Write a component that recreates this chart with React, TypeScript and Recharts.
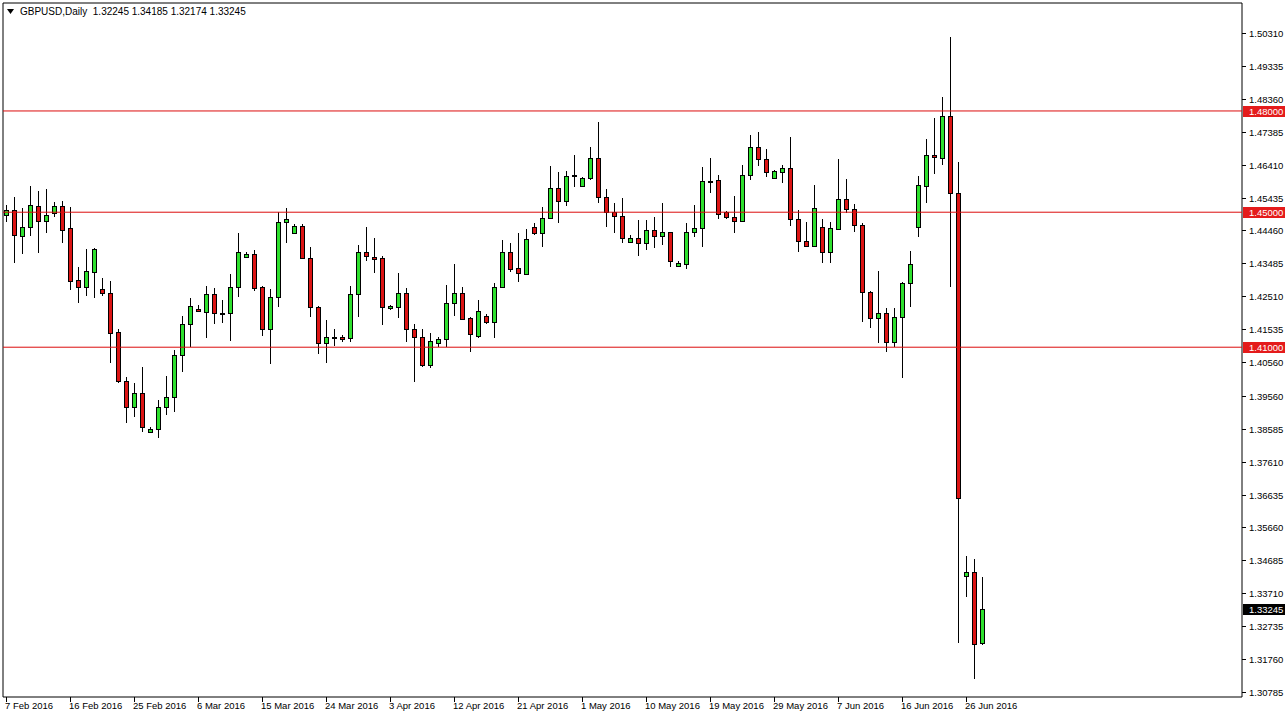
import React from "react";
import { ComposedChart, Bar, XAxis, YAxis, ReferenceLine, ReferenceArea } from "recharts";

// GBPUSD daily, 7 Feb 2016 .. 28 Jun 2016 (Sun-Fri bars, as the broker feed shows them)
const opens = [
  1.4492, 1.4507, 1.4429, 1.4456, 1.4518, 1.4474, 1.4498, 1.4518, 1.4453, 1.4299,
  1.4278, 1.4323, 1.4273, 1.4261, 1.4145, 1.4, 1.3923, 1.3964, 1.3849, 1.3858,
  1.3923, 1.3953, 1.4077, 1.4169, 1.4213, 1.4204, 1.4258, 1.4201, 1.4201, 1.4278,
  1.4367, 1.4376, 1.4278, 1.4154, 1.4249, 1.4471, 1.4438, 1.4459, 1.4364, 1.4219,
  1.4112, 1.413, 1.413, 1.4127, 1.4258, 1.4382, 1.4367, 1.4364, 1.4216, 1.4219,
  1.4261, 1.4154, 1.413, 1.4047, 1.4112, 1.4124, 1.4231, 1.4261, 1.4187, 1.4133,
  1.4192, 1.4175, 1.4278, 1.4382, 1.4335, 1.4317, 1.4456, 1.4438, 1.4483, 1.4572,
  1.4533, 1.4607, 1.4578, 1.4601, 1.466, 1.4545, 1.4501, 1.4489, 1.4412, 1.4424,
  1.4409, 1.4447, 1.4429, 1.4441, 1.4341, 1.4346, 1.4441, 1.4453, 1.4589, 1.4595,
  1.4501, 1.4486, 1.4474, 1.461, 1.4693, 1.4658, 1.4601, 1.4619, 1.4631, 1.448,
  1.4415, 1.44, 1.4456, 1.4382, 1.445, 1.4539, 1.451, 1.4462, 1.4264, 1.4187,
  1.4201, 1.4115, 1.4189, 1.429, 1.4456, 1.4578, 1.4669, 1.466, 1.4785, 1.4557,
  1.3422, 1.3434, 1.32245,
];
const highs = [
  1.4521, 1.4545, 1.4513, 1.4577, 1.4563, 1.4569, 1.453, 1.4533, 1.4515, 1.4338,
  1.4391, 1.4394, 1.4305, 1.4296, 1.4154, 1.4012, 1.3994, 1.4042, 1.3864, 1.3944,
  1.4015, 1.4092, 1.4192, 1.4246, 1.4225, 1.4281, 1.4276, 1.424, 1.4317, 1.4438,
  1.4382, 1.4388, 1.4281, 1.4273, 1.4501, 1.4513, 1.4465, 1.4465, 1.4397, 1.4222,
  1.4181, 1.4154, 1.4136, 1.4281, 1.4403, 1.4456, 1.4424, 1.437, 1.4225, 1.432,
  1.4276, 1.4169, 1.4154, 1.4142, 1.413, 1.4284, 1.4346, 1.4278, 1.4189, 1.424,
  1.4198, 1.429, 1.4418, 1.4409, 1.4438, 1.445, 1.4468, 1.4515, 1.4637, 1.4619,
  1.4622, 1.4669, 1.4604, 1.4693, 1.4767, 1.4569, 1.4527, 1.4542, 1.4432, 1.4477,
  1.4477, 1.4486, 1.4527, 1.4441, 1.4355, 1.4468, 1.4521, 1.4634, 1.466, 1.461,
  1.4504, 1.4548, 1.464, 1.4729, 1.4738, 1.4687, 1.4625, 1.464, 1.4723, 1.4507,
  1.4471, 1.4581, 1.448, 1.4471, 1.4658, 1.4598, 1.4524, 1.4468, 1.4266, 1.4326,
  1.4216, 1.4216, 1.4293, 1.4385, 1.4607, 1.4717, 1.4779, 1.4841, 1.5019, 1.4649,
  1.3481, 1.3472, 1.34185,
];
const lows = [
  1.4471, 1.4349, 1.4376, 1.4429, 1.4379, 1.4438, 1.4486, 1.4409, 1.427, 1.4231,
  1.4252, 1.4246, 1.4252, 1.4053, 1.3994, 1.3875, 1.3893, 1.3849, 1.3846, 1.3831,
  1.3899, 1.3908, 1.4027, 1.4101, 1.4204, 1.4127, 1.4169, 1.4172, 1.4118, 1.4249,
  1.4364, 1.4267, 1.4133, 1.405, 1.4219, 1.4409, 1.4436, 1.4362, 1.4189, 1.408,
  1.4053, 1.4104, 1.4115, 1.4115, 1.4189, 1.4355, 1.432, 1.4166, 1.421, 1.4186,
  1.4115, 1.3997, 1.4041, 1.4038, 1.4101, 1.4101, 1.4192, 1.4181, 1.4086, 1.4127,
  1.4169, 1.4127, 1.4276, 1.4323, 1.4293, 1.4314, 1.4432, 1.4397, 1.4481, 1.4468,
  1.4518, 1.4575, 1.4575, 1.4595, 1.4527, 1.4456, 1.4438, 1.4409, 1.4409, 1.437,
  1.4388, 1.4394, 1.4403, 1.4338, 1.4338, 1.4332, 1.4427, 1.4397, 1.4557, 1.448,
  1.448, 1.4438, 1.4471, 1.4595, 1.4637, 1.4604, 1.4601, 1.4587, 1.4459, 1.4382,
  1.4397, 1.4397, 1.4349, 1.4349, 1.4447, 1.4498, 1.4441, 1.4175, 1.4157, 1.4112,
  1.4086, 1.4101, 1.4009, 1.4219, 1.4427, 1.4527, 1.4613, 1.464, 1.4278, 1.3224,
  1.336, 1.3117, 1.32174,
];
const closes = [
  1.4507, 1.4432, 1.4456, 1.4521, 1.4474, 1.4492, 1.4518, 1.4447, 1.4296, 1.4278,
  1.4326, 1.4391, 1.4261, 1.4142, 1.4, 1.3923, 1.3964, 1.3864, 1.3858, 1.3923,
  1.3953, 1.4077, 1.4169, 1.4222, 1.4207, 1.4258, 1.4201, 1.4201, 1.4278, 1.4382,
  1.4376, 1.4276, 1.4154, 1.4249, 1.4471, 1.448, 1.4459, 1.4364, 1.4219, 1.4112,
  1.413, 1.413, 1.4124, 1.4258, 1.4382, 1.437, 1.4361, 1.4219, 1.4222, 1.4261,
  1.4154, 1.413, 1.4047, 1.4118, 1.4124, 1.4231, 1.4261, 1.4184, 1.4139, 1.4207,
  1.4175, 1.4278, 1.4382, 1.4332, 1.432, 1.4421, 1.4438, 1.4483, 1.4572, 1.4533,
  1.4607, 1.461, 1.4601, 1.466, 1.4545, 1.4501, 1.4489, 1.4424, 1.4424, 1.4409,
  1.4447, 1.4429, 1.4441, 1.4355, 1.4349, 1.4441, 1.4453, 1.4592, 1.4592, 1.4495,
  1.4486, 1.4474, 1.461, 1.4693, 1.4658, 1.4619, 1.4622, 1.4631, 1.448, 1.4415,
  1.44, 1.4513, 1.4382, 1.4453, 1.4539, 1.451, 1.4462, 1.4264, 1.4187, 1.4201,
  1.4115, 1.4189, 1.429, 1.4346, 1.4581, 1.4669, 1.4663, 1.4785, 1.4557, 1.3653,
  1.3434, 1.3221, 1.33245,
];

// one date label every 8 bars, starting at bar 0
const dateLabels = [
  "7 Feb 2016", "16 Feb 2016", "25 Feb 2016", "6 Mar 2016", "15 Mar 2016", "24 Mar 2016",
  "3 Apr 2016", "12 Apr 2016", "21 Apr 2016", "1 May 2016", "10 May 2016", "19 May 2016",
  "29 May 2016", "7 Jun 2016", "16 Jun 2016", "26 Jun 2016",
];
const priceTicks = [
  1.5031, 1.49335, 1.4836, 1.47385, 1.4641, 1.45435, 1.4446, 1.43485, 1.4251, 1.41535,
  1.4056, 1.3956, 1.38585, 1.3761, 1.36635, 1.3566, 1.34685, 1.3371, 1.32735, 1.3176, 1.30785,
];
const levels = [1.48, 1.45, 1.41];
const lastPrice = 1.33245;

const Y_MIN = 1.30636;
const Y_MAX = 1.51199;
const X_MIN = -0.375;
const X_MAX = 154.5;
const FONT = "'Liberation Sans', Arial, sans-serif";

const rows = opens.map((o, i) => ({ i, open: o, high: highs[i], low: lows[i], close: closes[i] }));
const dateTicks = dateLabels.map((_, k) => k * 8);

function Candle(props: any) {
  const { x, y, width, height, payload } = props;
  if (!payload || height == null) return null;
  const top = Math.min(y, y + height);
  const h = Math.abs(height);
  const cx = Math.round(x + width / 2);
  const { open, high, low, close } = payload;
  const span = high - low || 1;
  const py = (p: number) => top + ((high - p) / span) * h;
  const b0 = Math.round(Math.min(py(open), py(close)));
  const b1 = Math.round(Math.max(py(open), py(close)));
  const fill = close > open ? "#2ee02e" : close < open ? "#dc1414" : "#000";
  return (
    <g>
      <line x1={cx + 0.5} x2={cx + 0.5} y1={Math.round(top)} y2={Math.round(top + h)} stroke="#000" />
      {b1 - b0 >= 2 ? (
        <rect x={cx - 1.5} y={b0 + 0.5} width={4} height={b1 - b0} fill={fill} stroke="#000" />
      ) : (
        <rect x={cx - 2} y={b0} width={5} height={2} fill={close < open ? "#8a1010" : "#000"} />
      )}
    </g>
  );
}

function DateTick(props: any) {
  const { x, payload } = props;
  const label = dateLabels[Math.round(payload.value / 8)];
  return (
    <g>
      <line x1={x + 0.5} x2={x + 0.5} y1={697} y2={702} stroke="#000" />
      <text x={x - 1} y={709} fontSize={9.5} fontFamily={FONT} fill="#000">
        {label}
      </text>
    </g>
  );
}

function PriceTick(props: any) {
  const { y, payload } = props;
  const yy = Math.round(y) + 0.5;
  return (
    <g>
      <line x1={1242} x2={1246} y1={yy} y2={yy} stroke="#000" />
      <text x={1249} y={yy + 3.5} fontSize={9.5} fontFamily={FONT} fill="#000">
        {payload.value.toFixed(5)}
      </text>
    </g>
  );
}

function PriceTag({ viewBox, value, bg }: any) {
  const yy = Math.round(viewBox.y);
  return (
    <g>
      <rect x={1243} y={yy - 5} width={42} height={11} fill={bg} />
      <text x={1249} y={yy + 4} fontSize={9.5} fontFamily={FONT} fill="#fff">
        {value.toFixed(5)}
      </text>
    </g>
  );
}

export default function App() {
  return (
    <div style={{ position: "relative", width: 1287, height: 719, background: "#fff" }}>
      <style>{`body { margin: 0; }`}</style>
      <ComposedChart
        width={1287}
        height={719}
        data={rows}
        margin={{ top: 3, right: 0, bottom: 0, left: 3 }}
      >
        <XAxis
          type="number"
          dataKey="i"
          domain={[X_MIN, X_MAX]}
          allowDataOverflow
          ticks={dateTicks}
          interval={0}
          height={22}
          axisLine={false}
          tickLine={false}
          tick={<DateTick />}
        />
        <YAxis
          orientation="right"
          type="number"
          domain={[Y_MIN, Y_MAX]}
          allowDataOverflow
          ticks={priceTicks}
          interval={0}
          width={45}
          axisLine={false}
          tickLine={false}
          tick={<PriceTick />}
        />
        {levels.map((lv) => (
          <ReferenceLine
            key={lv}
            y={lv}
            stroke="#dc0c0c"
            strokeWidth={1}
            label={(p: any) => <PriceTag viewBox={p.viewBox} value={lv} bg="#e41b1b" />}
          />
        ))}
        <ReferenceLine
          y={lastPrice}
          stroke="none"
          label={(p: any) => <PriceTag viewBox={p.viewBox} value={lastPrice} bg="#000" />}
        />
        <Bar
          dataKey={(d: any) => [d.low, d.high]}
          barSize={5}
          shape={(p: any) => <Candle {...p} />}
          isAnimationActive={false}
        />
        <ReferenceArea
          x1={X_MIN}
          x2={X_MAX}
          y1={Y_MIN}
          y2={Y_MAX}
          fill="none"
          stroke="#000"
          strokeWidth={1}
        />
      </ComposedChart>
      <div
        style={{
          position: "absolute",
          left: 7,
          top: 6,
          fontFamily: FONT,
          fontSize: 10,
          color: "#000",
          display: "flex",
          alignItems: "center",
          whiteSpace: "pre",
        }}
      >
        <svg width={8} height={6} style={{ marginRight: 5 }}>
          <polygon points="0,0 7,0 3.5,5" fill="#000" />
        </svg>
        <span>{"GBPUSD,Daily  1.32245 1.34185 1.32174 1.33245"}</span>
      </div>
    </div>
  );
}
